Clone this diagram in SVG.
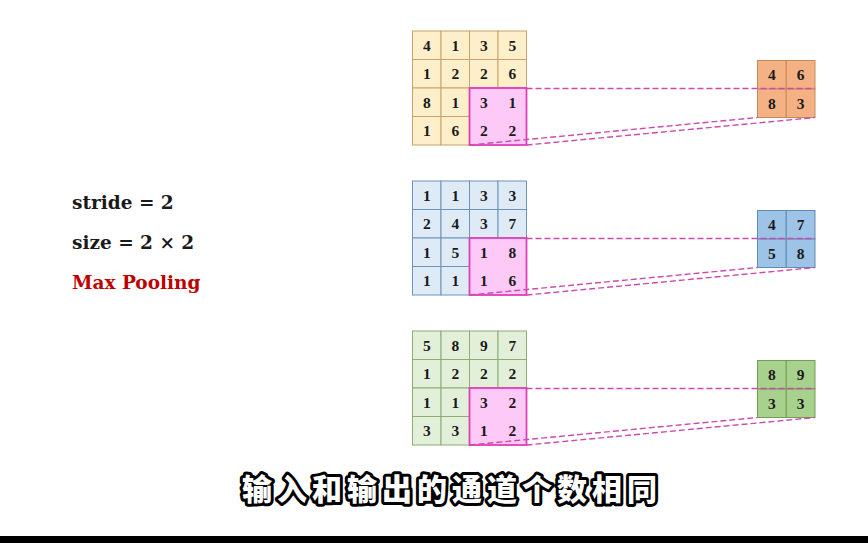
<svg xmlns="http://www.w3.org/2000/svg" width="868" height="543" viewBox="0 0 868 543">
<style>
.n{font-family:"Liberation Serif","Times New Roman",serif;font-weight:bold;font-size:15.5px;fill:#1a1a1a;text-anchor:middle}
.lbl{font-family:"DejaVu Serif","Liberation Serif",serif;font-weight:bold;font-size:18.5px;fill:#1a1a1a}
.o1{fill:#fdefca;stroke:#c9a36a;stroke-width:1}
.o2{fill:#f4b183;stroke:#c8895a;stroke-width:1}
.b1{fill:#deebf7;stroke:#6f93b8;stroke-width:1}
.b2{fill:#9dc3e6;stroke:#5f8bb5;stroke-width:1}
.g1{fill:#e2f0d9;stroke:#8cae74;stroke-width:1}
.g2{fill:#a9d18e;stroke:#719d55;stroke-width:1}
.pk{fill:#fdc9f6;stroke:#df3fb6;stroke-width:1.8}
.dash{fill:none;stroke:#cc4aae;stroke-width:1.4;stroke-dasharray:6 3}
.sub{font-family:"Noto Sans CJK SC","Noto Sans",sans-serif;font-weight:900;font-size:30px;fill:#ffffff;stroke:#000;stroke-width:6;stroke-linejoin:round;paint-order:stroke;text-anchor:middle;letter-spacing:5px}
</style>
<rect width="868" height="543" fill="#ffffff"/>

<g id="params">
<text class="lbl" x="72" y="209">stride = 2</text>
<text class="lbl" x="72" y="249">size = 2 × 2</text>
<text class="lbl" x="72" y="289" style="fill:#c00000">Max Pooling</text>
</g>

<g id="input1" transform="translate(412.5,31)">
<g class="o1">
<rect x="0" y="0" width="28.5" height="28.5"/><rect x="28.5" y="0" width="28.5" height="28.5"/><rect x="57" y="0" width="28.5" height="28.5"/><rect x="85.5" y="0" width="28.5" height="28.5"/>
<rect x="0" y="28.5" width="28.5" height="28.5"/><rect x="28.5" y="28.5" width="28.5" height="28.5"/><rect x="57" y="28.5" width="28.5" height="28.5"/><rect x="85.5" y="28.5" width="28.5" height="28.5"/>
<rect x="0" y="57" width="28.5" height="28.5"/><rect x="28.5" y="57" width="28.5" height="28.5"/>
<rect x="0" y="85.5" width="28.5" height="28.5"/><rect x="28.5" y="85.5" width="28.5" height="28.5"/>
</g>
<rect class="pk" x="57" y="57" width="57" height="57"/>
<g class="n">
<text x="14.25" y="19.5">4</text><text x="42.75" y="19.5">1</text><text x="71.25" y="19.5">3</text><text x="99.75" y="19.5">5</text>
<text x="14.25" y="48">1</text><text x="42.75" y="48">2</text><text x="71.25" y="48">2</text><text x="99.75" y="48">6</text>
<text x="14.25" y="76.5">8</text><text x="42.75" y="76.5">1</text><text x="71.25" y="76.5">3</text><text x="99.75" y="76.5">1</text>
<text x="14.25" y="105">1</text><text x="42.75" y="105">6</text><text x="71.25" y="105">2</text><text x="99.75" y="105">2</text>
</g>
</g>

<g id="output1" transform="translate(757.5,60.5)">
<g class="o2">
<rect x="0" y="0" width="28.75" height="28.5"/><rect x="28.75" y="0" width="28.75" height="28.5"/>
<rect x="0" y="28.5" width="28.75" height="28.5"/><rect x="28.75" y="28.5" width="28.75" height="28.5"/>
</g>
<g class="n">
<text x="14.4" y="19.5">4</text><text x="43.1" y="19.5">6</text>
<text x="14.4" y="48">8</text><text x="43.1" y="48">3</text>
</g>
</g>

<g id="input2" transform="translate(412.5,181)">
<g class="b1">
<rect x="0" y="0" width="28.5" height="28.5"/><rect x="28.5" y="0" width="28.5" height="28.5"/><rect x="57" y="0" width="28.5" height="28.5"/><rect x="85.5" y="0" width="28.5" height="28.5"/>
<rect x="0" y="28.5" width="28.5" height="28.5"/><rect x="28.5" y="28.5" width="28.5" height="28.5"/><rect x="57" y="28.5" width="28.5" height="28.5"/><rect x="85.5" y="28.5" width="28.5" height="28.5"/>
<rect x="0" y="57" width="28.5" height="28.5"/><rect x="28.5" y="57" width="28.5" height="28.5"/>
<rect x="0" y="85.5" width="28.5" height="28.5"/><rect x="28.5" y="85.5" width="28.5" height="28.5"/>
</g>
<rect class="pk" x="57" y="57" width="57" height="57"/>
<g class="n">
<text x="14.25" y="19.5">1</text><text x="42.75" y="19.5">1</text><text x="71.25" y="19.5">3</text><text x="99.75" y="19.5">3</text>
<text x="14.25" y="48">2</text><text x="42.75" y="48">4</text><text x="71.25" y="48">3</text><text x="99.75" y="48">7</text>
<text x="14.25" y="76.5">1</text><text x="42.75" y="76.5">5</text><text x="71.25" y="76.5">1</text><text x="99.75" y="76.5">8</text>
<text x="14.25" y="105">1</text><text x="42.75" y="105">1</text><text x="71.25" y="105">1</text><text x="99.75" y="105">6</text>
</g>
</g>

<g id="output2" transform="translate(757.5,210.5)">
<g class="b2">
<rect x="0" y="0" width="28.75" height="28.5"/><rect x="28.75" y="0" width="28.75" height="28.5"/>
<rect x="0" y="28.5" width="28.75" height="28.5"/><rect x="28.75" y="28.5" width="28.75" height="28.5"/>
</g>
<g class="n">
<text x="14.4" y="19.5">4</text><text x="43.1" y="19.5">7</text>
<text x="14.4" y="48">5</text><text x="43.1" y="48">8</text>
</g>
</g>

<g id="input3" transform="translate(412.5,331)">
<g class="g1">
<rect x="0" y="0" width="28.5" height="28.5"/><rect x="28.5" y="0" width="28.5" height="28.5"/><rect x="57" y="0" width="28.5" height="28.5"/><rect x="85.5" y="0" width="28.5" height="28.5"/>
<rect x="0" y="28.5" width="28.5" height="28.5"/><rect x="28.5" y="28.5" width="28.5" height="28.5"/><rect x="57" y="28.5" width="28.5" height="28.5"/><rect x="85.5" y="28.5" width="28.5" height="28.5"/>
<rect x="0" y="57" width="28.5" height="28.5"/><rect x="28.5" y="57" width="28.5" height="28.5"/>
<rect x="0" y="85.5" width="28.5" height="28.5"/><rect x="28.5" y="85.5" width="28.5" height="28.5"/>
</g>
<rect class="pk" x="57" y="57" width="57" height="57"/>
<g class="n">
<text x="14.25" y="19.5">5</text><text x="42.75" y="19.5">8</text><text x="71.25" y="19.5">9</text><text x="99.75" y="19.5">7</text>
<text x="14.25" y="48">1</text><text x="42.75" y="48">2</text><text x="71.25" y="48">2</text><text x="99.75" y="48">2</text>
<text x="14.25" y="76.5">1</text><text x="42.75" y="76.5">1</text><text x="71.25" y="76.5">3</text><text x="99.75" y="76.5">2</text>
<text x="14.25" y="105">3</text><text x="42.75" y="105">3</text><text x="71.25" y="105">1</text><text x="99.75" y="105">2</text>
</g>
</g>

<g id="output3" transform="translate(757.5,360.5)">
<g class="g2">
<rect x="0" y="0" width="28.75" height="28.5"/><rect x="28.75" y="0" width="28.75" height="28.5"/>
<rect x="0" y="28.5" width="28.75" height="28.5"/><rect x="28.75" y="28.5" width="28.75" height="28.5"/>
</g>
<g class="n">
<text x="14.4" y="19.5">8</text><text x="43.1" y="19.5">9</text>
<text x="14.4" y="48">3</text><text x="43.1" y="48">3</text>
</g>
</g>

<g id="connectors" class="dash">
<line x1="526.5" y1="88.5" x2="815" y2="88.5"/>
<line x1="469.5" y1="145" x2="757.5" y2="117.5"/>
<line x1="526.5" y1="145" x2="815" y2="117.5"/>
<line x1="526.5" y1="238.5" x2="815" y2="238.5"/>
<line x1="469.5" y1="295" x2="757.5" y2="267.5"/>
<line x1="526.5" y1="295" x2="815" y2="267.5"/>
<line x1="526.5" y1="388.5" x2="815" y2="388.5"/>
<line x1="469.5" y1="445" x2="757.5" y2="417.5"/>
<line x1="526.5" y1="445" x2="815" y2="417.5"/>
</g>

<g id="subtitle">
<text class="sub" x="452" y="500">输入和输出的通道个数相同</text>
</g>
<rect x="0" y="536" width="868" height="7" fill="#000000"/>
</svg>
